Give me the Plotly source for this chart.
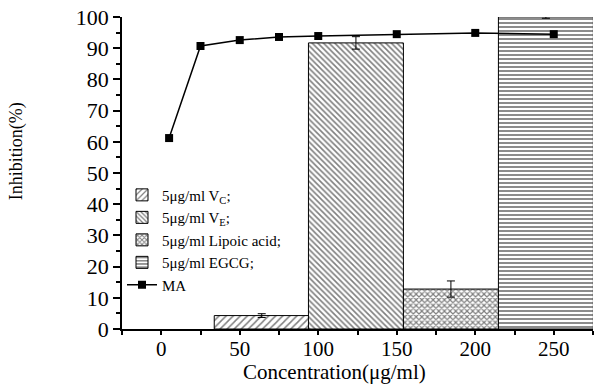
import plotly.graph_objects as go

# ---- data ----
bar_names = ["5μg/ml V<sub>C</sub>;", "5μg/ml V<sub>E</sub>;", "5μg/ml Lipoic acid;", "5μg/ml EGCG;"]
bar_x = [64, 124, 184.5, 245]
bar_y = [4.3, 91.7, 12.8, 100.0]
bar_err = [0.6, 2.0, 2.6, 0.4]
bar_patterns = ["/", "\\", "x", "-"]

ma_x = [5, 25, 50, 75, 100, 150, 200, 250]
ma_y = [61.2, 90.7, 92.6, 93.6, 93.9, 94.5, 94.9, 94.5]

FONT = "Liberation Serif"

fig = go.Figure()
pat_size = {"/": 5, "\\": 4, "x": 4, "-": 4}
pat_sol = {"/": 0.3, "\\": 0.4, "x": 0.5, "-": 0.45}
for name, x, y, e, p in zip(bar_names, bar_x, bar_y, bar_err, bar_patterns):
    fig.add_trace(go.Bar(
        x=[x], y=[y], width=60.5, name=name,
        marker=dict(color="white", line=dict(color="black", width=1),
                    pattern=dict(shape=p, fgcolor="black", bgcolor="white",
                                 size=pat_size[p], solidity=pat_sol[p])),
        error_y=dict(type="data", array=[e], color="black", thickness=1, width=4),
    ))

fig.add_trace(go.Scatter(
    x=ma_x, y=ma_y, name="MA", mode="lines+markers",
    line=dict(color="black", width=1.5),
    marker=dict(symbol="square", size=8, color="black"),
))

fig.update_layout(
    width=598, height=387,
    margin=dict(l=122, r=5, t=17, b=58),
    paper_bgcolor="white", plot_bgcolor="white",
    barmode="overlay",
    font=dict(family=FONT, color="black", size=20),
    showlegend=True,
    legend=dict(x=0.0, y=0.482, xanchor="left", yanchor="top",
                bgcolor="rgba(0,0,0,0)", font=dict(size=15, family=FONT),
                traceorder="normal", itemwidth=30, tracegroupgap=0,
                borderwidth=0),
    xaxis=dict(range=[-25, 275], tickvals=[0, 50, 100, 150, 200, 250],
               showgrid=False, zeroline=False, showline=True, linecolor="black",
               linewidth=1.5, ticks="outside", ticklen=4, tickwidth=1.5, tickcolor="black",
               ticklabelstandoff=-4,
               minor=dict(dtick=25, tick0=0, ticks="outside", ticklen=4, tickwidth=1.5, tickcolor="black"),
               tickfont=dict(size=21)),
    yaxis=dict(range=[0, 100], dtick=10, showgrid=False, zeroline=False,
               showline=True, linecolor="black", linewidth=1.5,
               ticks="outside", ticklen=7, tickwidth=1.5, tickcolor="black",
               minor=dict(dtick=5, ticks="outside", ticklen=4, tickwidth=1.5, tickcolor="black"),
               tickfont=dict(size=22)),
    annotations=[
        dict(text="Inhibition(%)", textangle=-90, xref="paper", yref="paper",
             x=-0.225, y=0.57, xanchor="center", yanchor="middle",
             showarrow=False, font=dict(size=18, family=FONT)),
        dict(text="Concentration(μg/ml)", xref="paper", yref="paper",
             x=0.452, y=-0.137, xanchor="center", yanchor="middle",
             showarrow=False, font=dict(size=21, family=FONT)),
    ],
)

fig.write_html("out.html", config={"displayModeBar": False},
               post_script="document.body.style.margin='0';document.body.style.overflow='hidden';")
